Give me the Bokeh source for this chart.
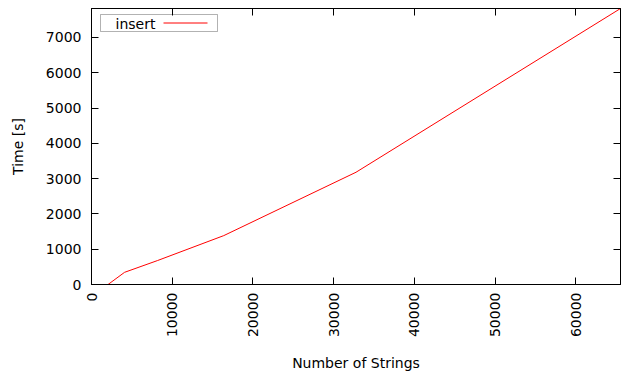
import math
from bokeh.plotting import figure
from bokeh.models import Range1d, LinearAxis, FixedTicker, CustomJSTickFormatter, BoxAnnotation, Label
from bokeh.embed import file_html
from bokeh.resources import INLINE

# ---- data ----
num_strings = [1, 2048, 4096, 8192, 16384, 32768, 65536]
insert_time = [0, 0, 345, 680, 1385, 3180, 7820]
series_label = "insert"
x_ticks = [0, 10000, 20000, 30000, 40000, 50000, 60000]
y_ticks = [0, 1000, 2000, 3000, 4000, 5000, 6000, 7000]
x_label = "Number of Strings"
y_label = "Time [s]"
x_max = 65536
y_max = 7820

FONT = "DejaVu Sans"
FS = "14px"

W, H = 629, 381
fl, fr, ft, fb = 91, 620, 8, 284  # frame edges in page pixels
ML, MR, MT, MB = fl, W - fr, ft, H - fb

p = figure(width=W, height=H, output_backend="svg", toolbar_location=None,
           x_range=Range1d(0, x_max), y_range=Range1d(0, y_max),
           min_border_left=ML, min_border_right=MR, min_border_top=MT, min_border_bottom=MB,
           background_fill_color="white", border_fill_color="white")
p.xgrid.grid_line_color = None
p.ygrid.grid_line_color = None
p.outline_line_color = "black"
p.outline_line_width = 1

def style_axis(ax, ticks, show_labels):
    ax.ticker = FixedTicker(ticks=ticks)
    ax.major_tick_in = 7
    ax.major_tick_out = 0
    ax.minor_tick_line_color = None
    ax.axis_line_color = "black"
    ax.major_tick_line_color = "black"
    ax.major_label_text_font = FONT
    ax.major_label_text_font_size = FS
    ax.major_label_text_color = "black"
    ax.axis_label_text_font = FONT
    ax.axis_label_text_font_size = FS
    ax.axis_label_text_font_style = "normal"
    ax.axis_label_text_color = "black"
    if not show_labels:
        ax.formatter = CustomJSTickFormatter(code="return ''")
        ax.major_label_standoff = 0

style_axis(p.xaxis[0], x_ticks, True)
style_axis(p.yaxis[0], y_ticks, True)
p.xaxis[0].major_label_orientation = math.pi / 2
p.xaxis[0].major_label_standoff = 8
p.xaxis[0].axis_label = x_label
p.xaxis[0].axis_label_standoff = 15
p.yaxis[0].major_label_standoff = 10
p.yaxis[0].axis_label = y_label
p.yaxis[0].axis_label_standoff = 17

top_ax = LinearAxis()
style_axis(top_ax, x_ticks, False)
p.add_layout(top_ax, "above")
right_ax = LinearAxis()
style_axis(right_ax, y_ticks, False)
p.add_layout(right_ax, "right")

p.line(num_strings, insert_time, line_color="#ff0000", line_width=1)

# ---- key box (gnuplot style: text then line sample) ----
def fx(px):
    return (px - fl) / (fr - fl) * x_max
def fy(py):
    return (fb - py) / (fb - ft) * y_max

p.add_layout(BoxAnnotation(left=fx(100), right=fx(217), top=fy(14), bottom=fy(31),
                           fill_color="white", fill_alpha=1.0, line_color="black", line_width=1,
                           level="underlay"))
p.add_layout(Label(x=fx(115), y=fy(23), text=series_label, text_font=FONT, text_font_size=FS,
                   text_baseline="middle", text_align="left", text_color="black"))
p.line(x=[fx(163), fx(207)], y=[fy(22.5), fy(22.5)], line_color="#ff0000", line_width=1)

open("out.html", "w").write(file_html(p, INLINE))
